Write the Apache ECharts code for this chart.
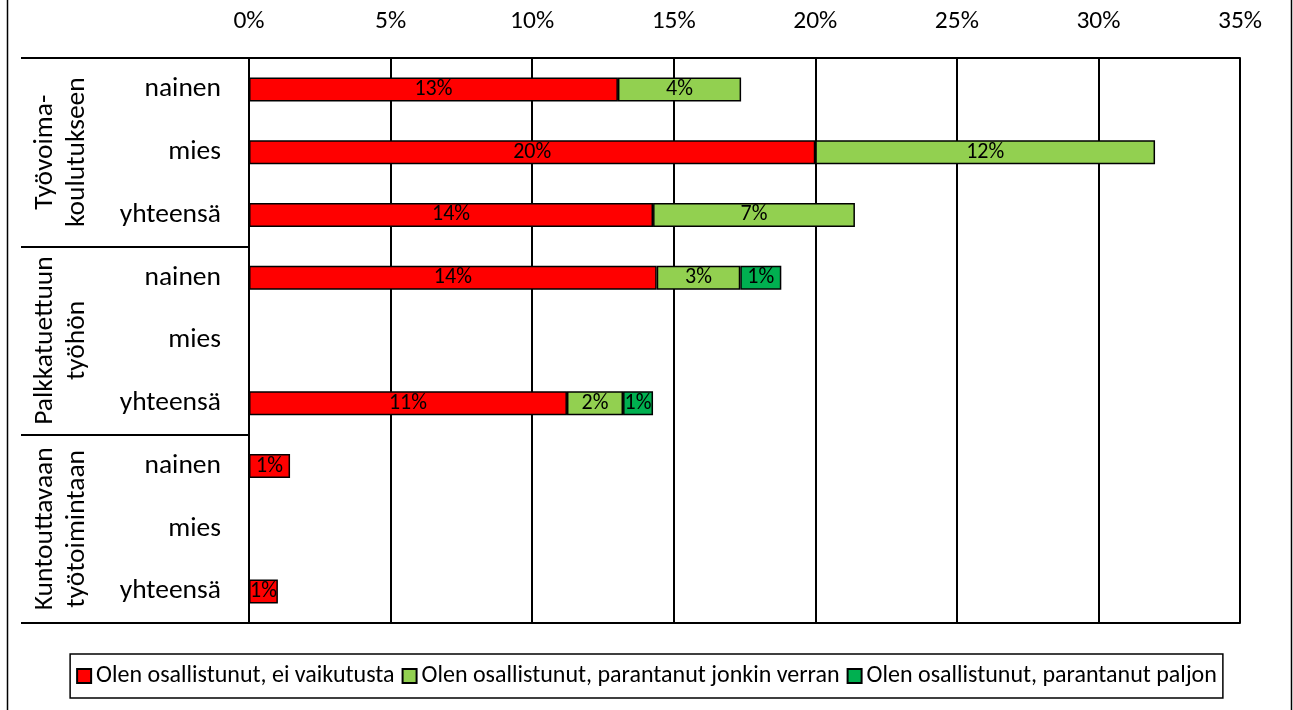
<!DOCTYPE html>
<html>
<head>
<meta charset="utf-8">
<script src="https://cdn.jsdelivr.net/npm/echarts@6/dist/echarts.min.js"></script>
<style>
  html, body { margin: 0; padding: 0; background: #fff; }
  #chart { width: 1293px; height: 710px; }
</style>
</head>
<body>
<div id="chart"></div>
<script>
// Participation groups (outer level) and respondent rows (inner level)
const groups = ['Työvoima-\nkoulutukseen', 'Palkkatuettuun\ntyöhön', 'Kuntouttavaan\ntyötoimintaan'];
const rows = ['nainen', 'mies', 'yhteensä'];

// Share of respondents (%) per row, three rows for each group
const eiVaikutusta      = [13.03, 20.0, 14.27, 14.4, null, 11.23, 1.45, null, 1.02];
const jonkinVerran      = [4.35, 12.0, 7.13, 2.95, null, 1.98, null, null, null];
const paljon            = [null, null, null, 1.45, null, 1.06, null, null, null];

const seriesNames = [
  'Olen osallistunut, ei vaikutusta',
  'Olen osallistunut, parantanut jonkin verran',
  'Olen osallistunut, parantanut paljon'
];
const seriesColors = ['#FF0000', '#92D050', '#00B050'];

const xTicks = { min: 0, max: 35, interval: 5 };

// Category keys: one per bar row, group|row
const categories = [];
groups.forEach(g => rows.forEach(r => categories.push(g + '|' + r)));

const FONT = 'Carlito, Lato, sans-serif';
const lineBlack = { color: '#000', width: 2 };

const chart = echarts.init(document.getElementById('chart'), null, { renderer: 'canvas' });

const makeSeries = (name, data, color) => ({
  name: name,
  type: 'bar',
  stack: 'total',
  data: data,
  barWidth: 24,
  itemStyle: { color: color, borderColor: '#000', borderWidth: 1.5 },
  label: {
    show: true,
    position: 'inside',
    color: '#000',
    fontFamily: FONT,
    fontSize: 22,
    formatter: p => Math.round(p.value) + '%'
  },
  emphasis: { disabled: true }
});

chart.setOption({
  animation: false,
  backgroundColor: '#fff',
  textStyle: { fontFamily: FONT, color: '#000' },
  grid: [
    // bar area
    { left: 249, right: 53, top: 58, bottom: 87, containLabel: false, outerBoundsMode: 'none' },
    // group column to the left of the row labels
    { left: 21, width: 228, top: 58, bottom: 87, containLabel: false, outerBoundsMode: 'none' }
  ],
  xAxis: [
    {
      type: 'value',
      gridIndex: 0,
      position: 'top',
      min: xTicks.min, max: xTicks.max, interval: xTicks.interval,
      axisLine: { show: true, lineStyle: lineBlack },
      axisTick: { show: false },
      axisLabel: {
        color: '#000', fontFamily: FONT, fontSize: 25.5, margin: 23,
        formatter: v => v + '%'
      },
      splitLine: { show: true, lineStyle: lineBlack }
    },
    {
      type: 'value',
      gridIndex: 0,
      position: 'bottom',
      min: xTicks.min, max: xTicks.max, interval: xTicks.interval,
      axisLine: { show: true, onZero: false, lineStyle: lineBlack },
      axisTick: { show: false },
      axisLabel: { show: false },
      splitLine: { show: false }
    },
    {
      type: 'value',
      gridIndex: 1,
      min: 0, max: 1,
      show: false
    }
  ],
  yAxis: [
    {
      type: 'category',
      gridIndex: 0,
      position: 'left',
      inverse: true,
      data: categories,
      axisLine: { show: true, lineStyle: lineBlack },
      axisTick: { show: false },
      axisLabel: {
        interval: 0,
        color: '#000', fontFamily: FONT, fontSize: 27.5, margin: 28,
        formatter: v => v.split('|')[1]
      }
    },
    {
      // group column: split lines separate the groups
      type: 'category',
      gridIndex: 1,
      position: 'left',
      inverse: true,
      data: groups,
      axisLine: { show: false },
      axisTick: { show: false },
      splitLine: { show: true, interval: 0, lineStyle: lineBlack },
      axisLabel: {
        interval: 0,
        inside: true,
        rotate: 90,
        margin: 8,
        color: '#000', fontFamily: FONT, fontSize: 27.5, lineHeight: 32
      }
    }
  ],
  legend: {
    data: seriesNames,
    bottom: 12,
    left: 'center',
    icon: 'rect',
    itemWidth: 14,
    itemHeight: 14,
    itemGap: 7,
    padding: [10, 6],
    borderColor: '#000',
    borderWidth: 1.5,
    textStyle: { color: '#000', fontFamily: FONT, fontSize: 24 },
    selectedMode: false
  },
  graphic: [
    {
      // outer chart frame
      type: 'rect',
      silent: true,
      shape: { x: 7.5, y: -3, width: 1284, height: 716 },
      style: { fill: 'none', stroke: '#000', lineWidth: 1.5 }
    }
  ],
  series: [
    makeSeries(seriesNames[0], eiVaikutusta, seriesColors[0]),
    makeSeries(seriesNames[1], jonkinVerran, seriesColors[1]),
    makeSeries(seriesNames[2], paljon, seriesColors[2])
  ]
});
</script>
</body>
</html>
